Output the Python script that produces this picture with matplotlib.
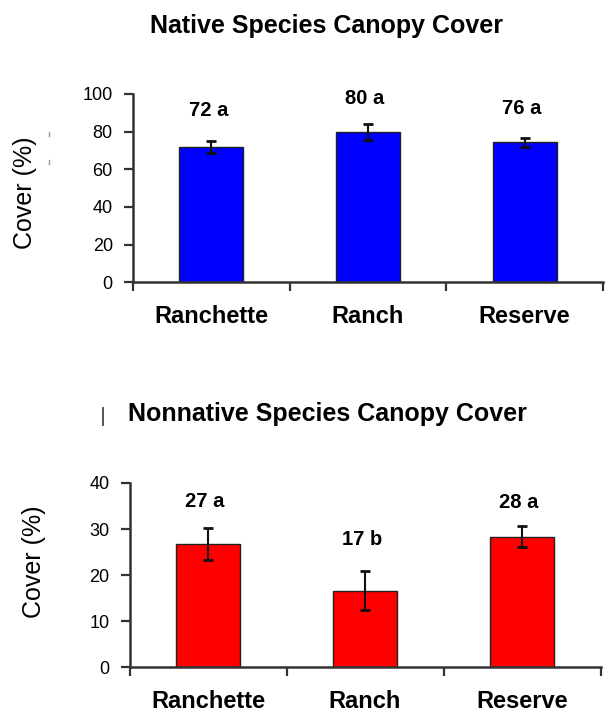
import matplotlib
matplotlib.use("Agg")
import matplotlib.pyplot as plt
from matplotlib.lines import Line2D
import numpy as np

plt.rcParams['font.family'] = ['Liberation Sans', 'DejaVu Sans']

categories = ["Ranchette", "Ranch", "Reserve"]

native_values = [72.0, 79.8, 74.4]
native_errors = [3.2, 4.2, 2.3]
native_labels = ["72 a", "80 a", "76 a"]

nonnative_values = [26.7, 16.6, 28.3]
nonnative_errors = [3.5, 4.2, 2.3]
nonnative_labels = ["27 a", "17 b", "28 a"]

# layout (label baselines in data units)
native_label_y = [88.3, 94.5, 89.4]
nonnative_label_y = [34.8, 26.5, 34.5]

W, H = 605, 711
fig = plt.figure(figsize=(W / 100, H / 100), dpi=100)


def panel(rect, values, errors, labels, label_y, color, ymax, step, title, title_y, ylab_xy):
    ax = fig.add_axes(rect)
    x = np.arange(len(categories))
    ax.bar(x, values, width=0.41, color=color, edgecolor='#222222', linewidth=1.0, zorder=2)
    ax.errorbar(x, values, yerr=errors, fmt='none', ecolor='#111111', elinewidth=1.5,
                capsize=3.6, capthick=2.0, zorder=3)
    for xi, lab, ly in zip(x, labels, label_y):
        ax.text(xi - 0.02, ly, lab, ha='center', va='baseline', fontsize=14.5,
                fontweight='bold', color='black')
    ax.set_xlim(-0.5, 2.5)
    ax.set_ylim(0, ymax)
    ax.set_yticks(np.arange(0, ymax + 0.1, step))
    ax.set_yticklabels([f"{int(v)}" for v in np.arange(0, ymax + 0.1, step)], fontsize=13)
    ax.set_xticks([-0.5, 0.5, 1.5, 2.5])
    ax.set_xticklabels([])
    ax.set_xticks(x, minor=True)
    ax.set_xticklabels(categories, minor=True, fontsize=17, fontweight='bold')
    ax.tick_params(axis='x', which='minor', length=0, pad=16)
    ax.tick_params(axis='x', which='major', direction='out', length=6.5, width=1.6, color='#333333')
    ax.tick_params(axis='y', direction='out', length=6.5, width=1.6, color='#333333', pad=8)
    for s in ['top', 'right']:
        ax.spines[s].set_visible(False)
    for s in ['left', 'bottom']:
        ax.spines[s].set_color('#333333')
        ax.spines[s].set_linewidth(1.8)
    ax.patch.set_alpha(0)
    fig.text(327 / W, 1 - title_y / H, title, ha='center', va='baseline',
             fontsize=18, fontweight='bold')
    fig.text(ylab_xy[0] / W, 1 - ylab_xy[1] / H, "Cover (%)", rotation=90,
             ha='center', va='center', fontsize=18)
    return ax


panel([133 / W, 1 - 282.3 / H, 470 / W, 188.3 / H], native_values, native_errors,
      native_labels, native_label_y, '#0000FF', 100, 20,
      "Native Species Canopy Cover", 33.3, (25, 193))

panel([129.5 / W, 1 - 667.3 / H, 471 / W, 184.4 / H], nonnative_values, nonnative_errors,
      nonnative_labels, nonnative_label_y, '#FF0000', 40, 10,
      "Nonnative Species Canopy Cover", 421, (34, 562))

# small scanning marks present in the original image
fig.add_artist(Line2D([103 / W, 103 / W], [1 - 408 / H, 1 - 425 / H],
                      color='#444444', linewidth=1.3, transform=fig.transFigure))
for y0, y1 in [(132, 135.5), (160, 163.5)]:
    fig.add_artist(Line2D([49 / W, 49 / W], [1 - y0 / H, 1 - y1 / H],
                          color='#999999', linewidth=1.0, transform=fig.transFigure))

fig.savefig("out.png", dpi=100)
